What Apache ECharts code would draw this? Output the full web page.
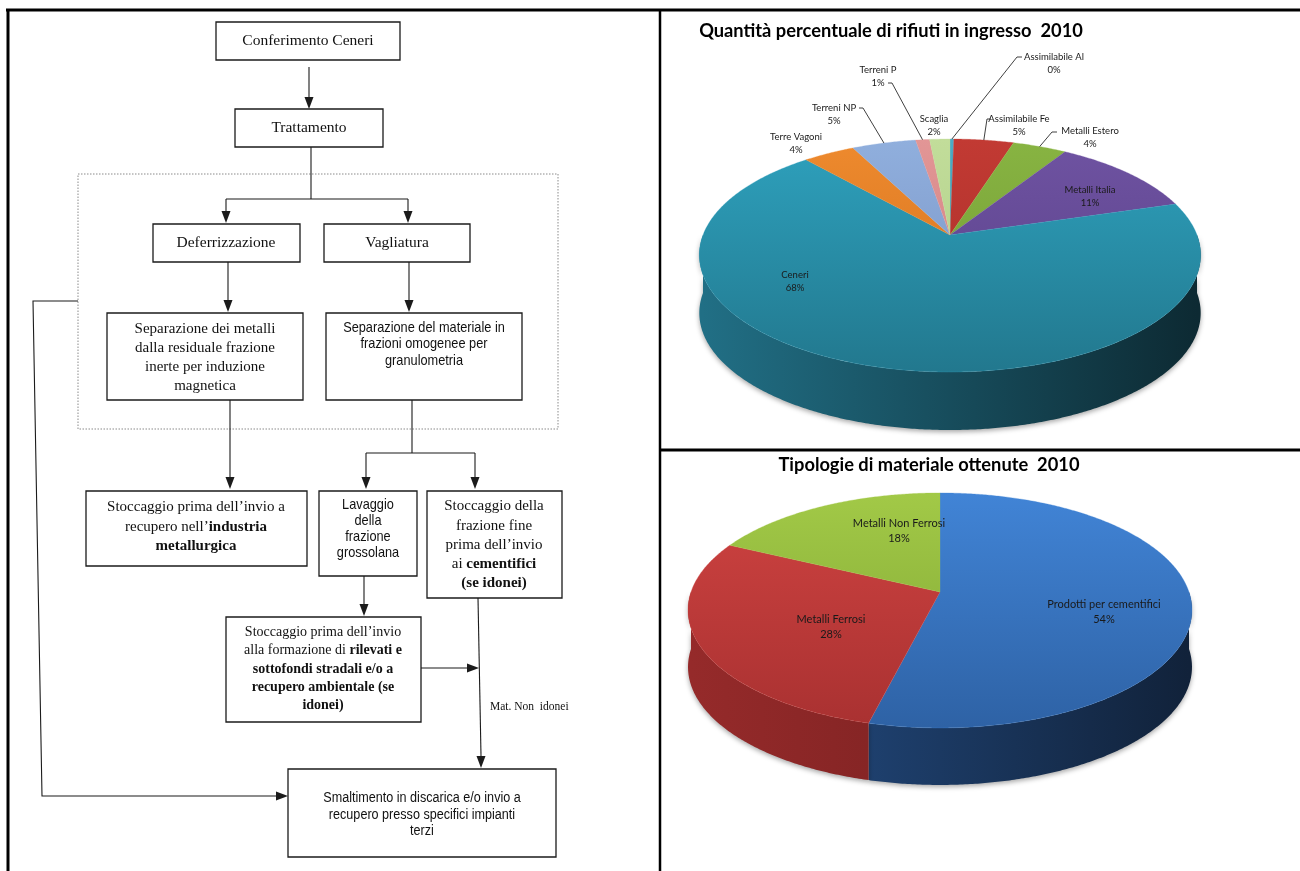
<!DOCTYPE html>
<html>
<head>
<meta charset="utf-8">
<script src="https://cdn.jsdelivr.net/npm/echarts@6/dist/echarts.min.js"></script>
<style>
html,body{margin:0;padding:0;background:#fff;}
#main{width:1300px;height:871px;}
</style>
</head>
<body>
<div id="main"></div>
<script>
// ---------------- DATA ----------------
const pie1Title = 'Quantità percentuale di rifiuti in ingresso  2010';
const pie1Names = ['Assimilabile Al','Assimilabile Fe','Metalli Estero','Metalli Italia','Ceneri','Terre Vagoni','Terreni NP','Terreni P','Scaglia'];
const pie1Values = [0.3, 4.7, 4.2, 11.3, 67.8, 4.0, 5.0, 1.1, 1.6];

const pie2Title = 'Tipologie di materiale ottenute  2010';
const pie2Names = ['Prodotti per cementifici','Metalli Ferrosi','Metalli Non Ferrosi'];
const pie2Values = [54, 28, 18];

// ---------------- STYLE / LAYOUT ----------------
const pie1Top = [['#4bacc6','#3f93aa'],['#c23a33','#a82d29'],['#88b442','#6f9833'],['#6f53a2','#573f86'],['#2ea1bd','#22788e'],['#ee8a2e','#d06f1c'],['#90afdd','#7690c2'],['#e29696','#cc7b7b'],['#c2dd9a','#a9c984']];
const pie1Side = [['#2c6f80','#173d47'],['#8e2626','#5c1818'],['#5f8426','#3a5317'],['#4c3673','#2c1f44'],['#216f85','#0d2a33'],['#b0581a','#6e370f'],['#5a74a3','#33435e'],['#a85a5a','#663636'],['#8aa366','#566641']];
const pie2Top = [['#4184d6','#2e62a5'],['#cf4341','#a93131'],['#a2c947','#7fa533']];
const pie2Side = [['#25508a','#11223a'],['#952a2a','#6b1c1c'],['#66862a','#3f5419']];

const G1 = {cx:950, ay:235, rx:247, ry:116.5, p:0.176, depth:58};
const G2 = {cx:940, ay:592, rx:249, ry:117.5, p:0.157, depth:57};

const pie1LabelPos = [[1054,63],[1019,125],[1090,137],[1090,196],[795,281],[796,143],[834,114],[878,76],[934,125]];
const pie1Leaders = [[[1022,57],[1017,57]], [[991,119],[987,119]], [[1057,132],[1052,132]], null, null, null, [[859,108],[863,108]], [[888,83],[892,83]], null];
const pie2LabelPos = [[1104,612],[831,627],[899,531]];

const LABEL_FONT = 'Lato, "Open Sans", sans-serif';

function proj(g, deg) {
  const t = deg * Math.PI / 180;
  const f = 1 - g.p * Math.cos(t);
  return [g.cx + g.rx * Math.sin(t) * f, g.ay - g.ry * Math.cos(t) * f];
}

function makePie(names, values, topColors, sideColors, g, labelPos, leaders, fontSize) {
  const total = values.reduce((a, b) => a + b, 0);
  const starts = [];
  let acc = 0;
  values.forEach(v => { starts.push(acc / total * 360); acc += v; });
  const yTop = g.ay - g.ry * (1 - g.p), yBot = g.ay + g.ry * (1 + g.p);
  return {
    type: 'custom',
    coordinateSystem: 'none',
    silent: true,
    animation: false,
    data: values.map((v, i) => ({name: names[i], value: v})),
    renderItem: function (params, api) {
      const i = params.dataIndex;
      const v = api.value(0);
      const a0 = starts[i], a1 = a0 + v / total * 360;
      const children = [];
      const s0 = Math.max(a0, 90), s1 = Math.min(a1, 270);
      if (s1 > s0) {
        const pts = [];
        for (let a = s0; a < s1; a += 0.5) pts.push(proj(g, a));
        pts.push(proj(g, s1));
        const bottom = pts.slice().reverse().map(q => [q[0], q[1] + g.depth]);
        children.push({
          type: 'polygon', z2: 1,
          shape: {points: pts.concat(bottom)},
          style: {
            fill: {type: 'linear', x: g.cx - g.rx, y: 0, x2: g.cx + g.rx, y2: 0, global: true,
              colorStops: [{offset: 0, color: sideColors[i][0]}, {offset: 1, color: sideColors[i][1]}]},
            shadowBlur: 5, shadowColor: 'rgba(0,0,0,0.35)', shadowOffsetY: 2
          }
        });
      }
      const tp = [[g.cx, g.ay]];
      for (let a = a0; a < a1; a += 0.5) tp.push(proj(g, a));
      tp.push(proj(g, a1));
      children.push({
        type: 'polygon', z2: 5,
        shape: {points: tp},
        style: {
          fill: {type: 'linear', x: 0, y: yTop, x2: 0, y2: yBot, global: true,
            colorStops: [{offset: 0, color: topColors[i][0]}, {offset: 1, color: topColors[i][1]}]},
          stroke: topColors[i][0], lineWidth: 0.3
        }
      });
      const pct = Math.round(v / total * 100);
      children.push({
        type: 'text', z2: 20,
        style: {
          text: names[i] + '\n' + pct + '%',
          x: labelPos[i][0], y: labelPos[i][1],
          align: 'center', verticalAlign: 'middle',
          fontFamily: LABEL_FONT, fontSize: fontSize, lineHeight: fontSize + 3.5,
          fill: '#1a1a1a'
        }
      });
      if (leaders && leaders[i]) {
        const rim = proj(g, (a0 + a1) / 2);
        children.push({
          type: 'polyline', z2: 20,
          shape: {points: leaders[i].concat([rim])},
          style: {stroke: '#2a2a2a', lineWidth: 0.9, fill: null}
        });
      }
      return {type: 'group', children: children};
    }
  };
}

// ---------------- FLOWCHART (decorative graphic) ----------------
const ink = '#1b1b1b';
const SERIF = '"Liberation Serif", "DejaVu Serif", serif';
const SANS = '"Liberation Sans", Arial, sans-serif';
function box(x1, y1, x2, y2) {
  return {type: 'rect', shape: {x: x1, y: y1, width: x2 - x1, height: y2 - y1}, style: {fill: '#fff', stroke: ink, lineWidth: 1.3}};
}
function pl(pts, opt) {
  return {type: 'polyline', shape: {points: pts}, style: Object.assign({stroke: ink, lineWidth: 1.1, fill: null}, opt || {})};
}
function arrD(x, y) { return {type: 'polygon', shape: {points: [[x - 4.5, y - 12], [x + 4.5, y - 12], [x, y]]}, style: {fill: ink}}; }
function arrR(x, y) { return {type: 'polygon', shape: {points: [[x - 12, y - 4.5], [x - 12, y + 4.5], [x, y]]}, style: {fill: ink}}; }
function txt(x, y, lines, family, size, lh, sx, extra) {
  return {
    type: 'text', z: 10, x: x, y: y, scaleX: sx || 1,
    style: Object.assign({
      text: lines.join('\n'), x: 0, y: 0, align: 'center', verticalAlign: 'middle',
      fontFamily: family, fontSize: size, lineHeight: lh, fill: '#111',
      rich: {b: {fontFamily: family, fontSize: size, fontWeight: 'bold', lineHeight: lh, fill: '#111'}}
    }, extra || {})
  };
}

const flow = [
  pl([[6, 10], [1300, 10]], {stroke: '#000', lineWidth: 3}),
  pl([[8, 10], [8, 871]], {stroke: '#000', lineWidth: 3}),
  pl([[660, 10], [660, 871]], {stroke: '#000', lineWidth: 2.5}),
  pl([[660, 450], [1300, 450]], {stroke: '#000', lineWidth: 3}),
  {type: 'rect', shape: {x: 78, y: 174, width: 480, height: 255}, style: {fill: null, stroke: '#8a8a8a', lineWidth: 1, lineDash: [1.5, 1.5]}},
  pl([[309, 67], [309, 98]]), arrD(309, 109),
  pl([[311, 147], [311, 199]]), pl([[226, 199], [408, 199]]),
  pl([[226, 199], [226, 212]]), arrD(226, 223),
  pl([[408, 199], [408, 212]]), arrD(408, 223),
  pl([[228, 262], [228, 300]]), arrD(228, 312),
  pl([[409, 262], [409, 300]]), arrD(409, 312),
  pl([[230, 400], [230, 477]]), arrD(230, 489),
  pl([[412, 400], [412, 453]]), pl([[366, 453], [475, 453]]),
  pl([[366, 453], [366, 477]]), arrD(366, 489),
  pl([[475, 453], [475, 477]]), arrD(475, 489),
  pl([[364, 576], [364, 604]]), arrD(364, 616),
  pl([[421, 668], [468, 668]]), arrR(479, 668),
  pl([[478, 598], [481, 756]]), arrD(481, 768),
  pl([[78, 301], [33, 301], [42, 796], [277, 796]]), arrR(288, 796),
  box(216, 22, 400, 60),
  box(235, 109, 383, 147),
  box(153, 224, 300, 262),
  box(324, 224, 470, 262),
  box(107, 313, 303, 400),
  box(326, 313, 522, 400),
  box(86, 491, 307, 566),
  box(319, 491, 417, 576),
  box(427, 491, 562, 598),
  box(226, 617, 421, 722),
  box(288, 769, 556, 857),
  txt(308, 41, ['Conferimento Ceneri'], SERIF, 15.5, 18),
  txt(309, 128, ['Trattamento'], SERIF, 15.5, 18),
  txt(226, 243, ['Deferrizzazione'], SERIF, 15.5, 18),
  txt(397, 243, ['Vagliatura'], SERIF, 15.5, 18),
  txt(205, 358, ['Separazione dei metalli', 'dalla residuale frazione', 'inerte per induzione', 'magnetica'], SERIF, 15, 19),
  txt(424, 344, ['Separazione del materiale in', 'frazioni omogenee per', 'granulometria'], SANS, 14.5, 16.5, 0.88),
  txt(368, 529, ['Lavaggio', 'della', 'frazione', 'grossolana'], SANS, 14.5, 15.7, 0.88),
  txt(196, 527, ['Stoccaggio prima dell’invio a', 'recupero nell’{b|industria}', '{b|metallurgica}'], SERIF, 15, 19.5),
  txt(494, 545, ['Stoccaggio della', 'frazione fine', 'prima dell’invio', 'ai {b|cementifici}', '{b|(se idonei)}'], SERIF, 15, 19.3),
  txt(323, 669, ['Stoccaggio prima dell’invio', 'alla formazione di {b|rilevati e}', '{b|sottofondi stradali e/o a}', '{b|recupero ambientale (se}', '{b|idonei)}'], SERIF, 14, 18.3),
  txt(422, 815, ['Smaltimento in discarica e/o invio a', 'recupero presso specifici impianti', 'terzi'], SANS, 14, 16.5, 0.9),
  txt(490, 707, ['Mat. Non  idonei'], SERIF, 11.5, 14, 1, {align: 'left'}),
  {type: 'text', z: 10, style: {text: pie1Title, x: 891, y: 31, align: 'center', verticalAlign: 'middle', fontFamily: LABEL_FONT, fontWeight: 'bold', fontSize: 18.3, fill: '#000'}},
  {type: 'text', z: 10, style: {text: pie2Title, x: 929, y: 465, align: 'center', verticalAlign: 'middle', fontFamily: LABEL_FONT, fontWeight: 'bold', fontSize: 18.3, fill: '#000'}}
];

const chart = echarts.init(document.getElementById('main'), null, {renderer: 'canvas', width: 1300, height: 871});
chart.setOption({
  backgroundColor: '#ffffff',
  animation: false,
  graphic: flow,
  series: [
    makePie(pie1Names, pie1Values, pie1Top, pie1Side, G1, pie1LabelPos, pie1Leaders, 9.5),
    makePie(pie2Names, pie2Values, pie2Top, pie2Side, G2, pie2LabelPos, null, 11)
  ]
});
</script>
</body>
</html>
